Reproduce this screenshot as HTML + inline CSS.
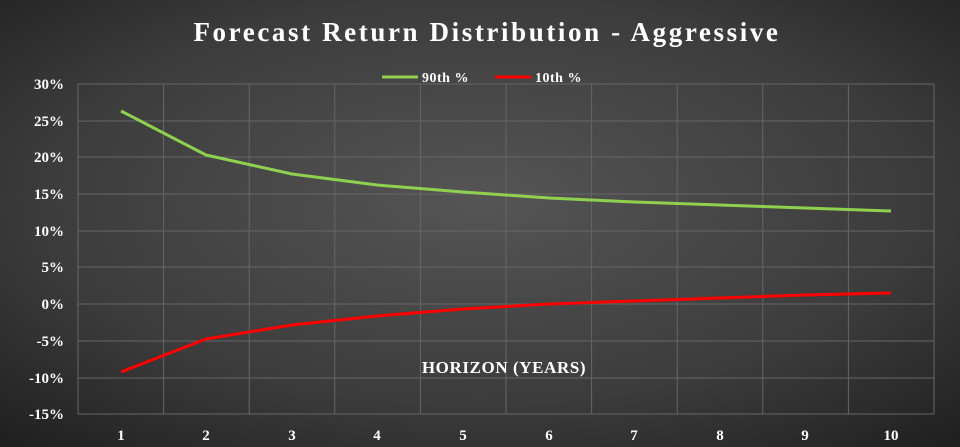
<!DOCTYPE html><html><head><style>body{margin:0;background:#000}svg{display:block}</style></head><body>
<svg width="960" height="447" xmlns="http://www.w3.org/2000/svg" font-family="Liberation Serif, serif">
<defs><radialGradient id="bg" cx="50%" cy="45%" r="75%"><stop offset="0" stop-color="#555"/><stop offset="0.6" stop-color="#3c3c3c"/><stop offset="1" stop-color="#1e1e1e"/></radialGradient></defs>
<rect width="960" height="447" fill="url(#bg)"/>
<text x="487" y="41" text-anchor="middle" fill="#fff" font-size="27" font-weight="bold" letter-spacing="2.6">Forecast Return Distribution - Aggressive</text>
<g stroke="#666" stroke-width="1">
<line x1="78" y1="84" x2="934" y2="84"/><line x1="78" y1="121" x2="934" y2="121"/><line x1="78" y1="157" x2="934" y2="157"/><line x1="78" y1="194" x2="934" y2="194"/><line x1="78" y1="231" x2="934" y2="231"/><line x1="78" y1="267" x2="934" y2="267"/><line x1="78" y1="304" x2="934" y2="304"/><line x1="78" y1="341" x2="934" y2="341"/><line x1="78" y1="378" x2="934" y2="378"/><line x1="78" y1="414" x2="934" y2="414"/>
<line x1="78" y1="84" x2="78" y2="414"/><line x1="163.6" y1="84" x2="163.6" y2="414"/><line x1="249.2" y1="84" x2="249.2" y2="414"/><line x1="334.8" y1="84" x2="334.8" y2="414"/><line x1="420.4" y1="84" x2="420.4" y2="414"/><line x1="506" y1="84" x2="506" y2="414"/><line x1="591.6" y1="84" x2="591.6" y2="414"/><line x1="677.2" y1="84" x2="677.2" y2="414"/><line x1="762.8" y1="84" x2="762.8" y2="414"/><line x1="848.4" y1="84" x2="848.4" y2="414"/><line x1="934" y1="84" x2="934" y2="414"/>
</g>
<g fill="#fff" font-size="15" font-weight="bold" text-anchor="end">
<text x="64" y="89">30%</text><text x="64" y="126">25%</text><text x="64" y="162">20%</text><text x="64" y="199">15%</text><text x="64" y="236">10%</text><text x="64" y="272">5%</text><text x="64" y="309">0%</text><text x="64" y="346">-5%</text><text x="64" y="383">-10%</text><text x="64" y="419">-15%</text>
</g>
<g fill="#fff" font-size="15" font-weight="bold" text-anchor="middle">
<text x="121" y="440">1</text><text x="206" y="440">2</text><text x="292" y="440">3</text><text x="377" y="440">4</text><text x="463" y="440">5</text><text x="549" y="440">6</text><text x="634" y="440">7</text><text x="720" y="440">8</text><text x="805" y="440">9</text><text x="891" y="440">10</text>
<text x="504" y="373" font-size="17" letter-spacing="0.6">HORIZON (YEARS)</text>
</g>
<line x1="382" y1="77" x2="418" y2="77" stroke="#8fd14f" stroke-width="3"/>
<text x="422" y="82" fill="#fff" font-size="14" font-weight="bold" letter-spacing="0.5">90th %</text>
<line x1="495" y1="77" x2="531" y2="77" stroke="#ff0000" stroke-width="3"/>
<text x="535" y="82" fill="#fff" font-size="14" font-weight="bold" letter-spacing="0.5">10th %</text>
<polyline fill="none" stroke="#8fd14f" stroke-width="3" stroke-linejoin="round" points="121,111 206,155 292,174 377,185 463,192 549,198 634,202 720,205 805,208 891,211"/>
<polyline fill="none" stroke="#ff0000" stroke-width="3" stroke-linejoin="round" points="121,372 206,339 292,325 377,316 463,309 549,304 634,301 720,298 805,295 891,293"/>
</svg></body></html>
